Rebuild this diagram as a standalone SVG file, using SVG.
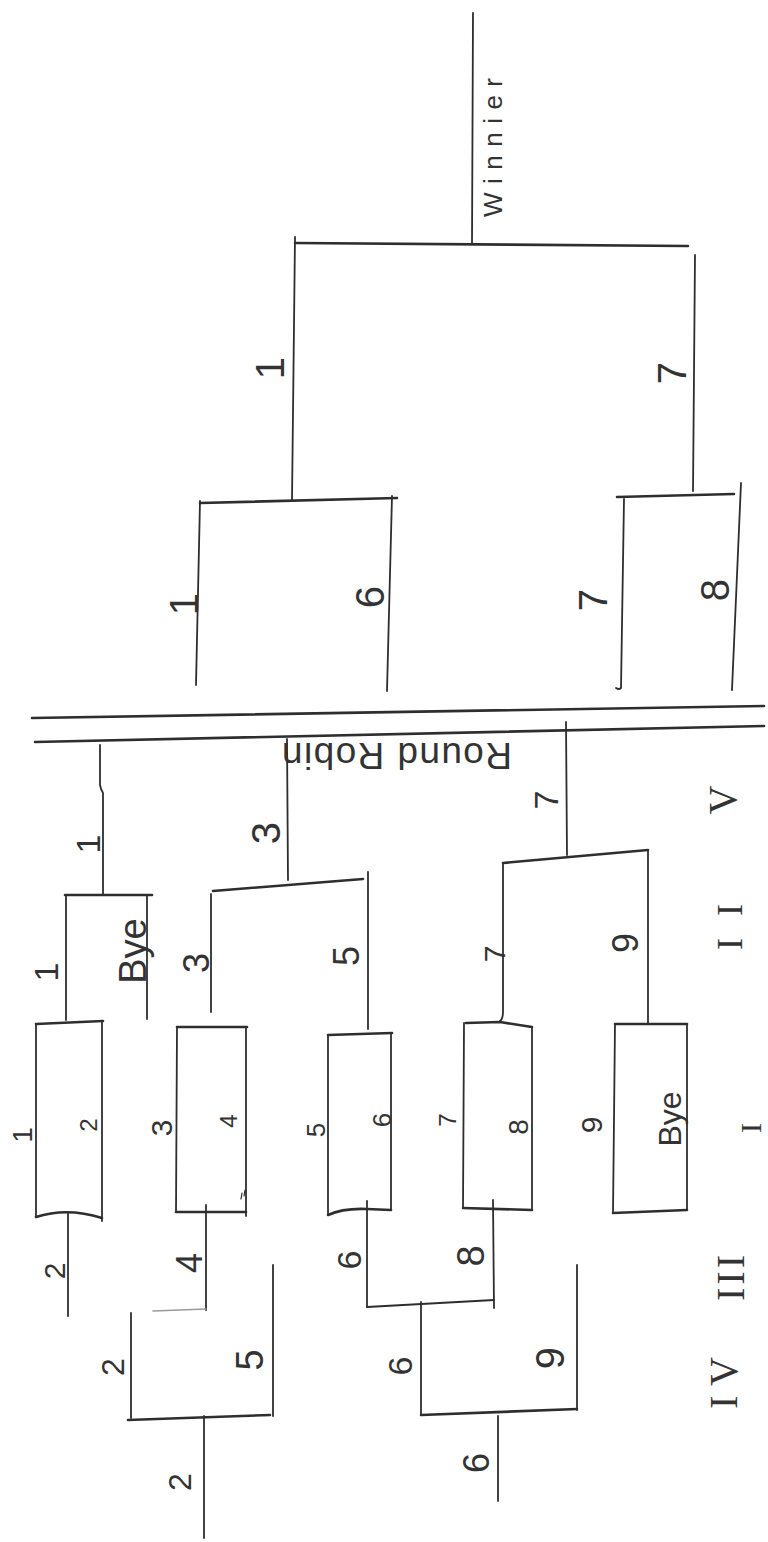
<svg xmlns="http://www.w3.org/2000/svg" width="768" height="1542" viewBox="0 0 768 1542">
<style>
.ln{stroke:#2e2e2e;stroke-width:1.8;fill:none;stroke-linecap:round;stroke-linejoin:round}
.tk{stroke-width:2.6}
.faint{stroke:#9a9a9a;stroke-width:1.5}
.t{font-family:"Liberation Sans","DejaVu Sans",sans-serif;fill:#333;text-anchor:middle;dominant-baseline:central}
.w{font-family:"Liberation Sans","DejaVu Sans",sans-serif;fill:#333}
.r{font-family:"Liberation Serif","DejaVu Serif",serif;fill:#333;text-anchor:middle;dominant-baseline:central}
</style>
<rect width="768" height="1542" fill="#ffffff"/>

<g id="connectors" class="ln">
  <path d="M473,13 L472,244"/>
  <path d="M295,243 L688,246" class="ln tk"/>
  <path d="M295,237 L292,501"/>
  <path d="M695,255 L693,491"/>
  <path d="M32,718 L764,706" class="ln tk"/>
  <path d="M35,742 L764,726" class="ln tk"/>
  <path d="M100,745 L100,785 Q101,790 103,793 L103,894"/>
  <path d="M287,739 L288,880"/>
  <path d="M566,722 L567,855"/>
  <path d="M68,1213 L68,1316"/>
  <path d="M206,1205 L206,1310"/>
  <path d="M153,1311 L206,1309" class="faint"/>
  <path d="M367,1201 L367,1307"/>
  <path d="M493,1200 L494,1308"/>
  <path d="M367,1307 L494,1300"/>
  <path d="M204,1416 L204,1538"/>
  <path d="M498,1416 L498,1501"/>
</g>

<g id="winner">
  <text class="w" font-size="26" transform="translate(502,217) rotate(-90)" textLength="139" lengthAdjust="spacing">Winnier</text>
</g>

<g id="final-left" class="ln">
  <path d="M200,503 L397,498" class="ln tk"/>
  <path d="M200,501 L196,685"/>
  <path d="M392,496 L387,691"/>
  <text class="t" stroke="none" font-size="40" transform="translate(270,368) rotate(-90)">1</text>
  <text class="t" stroke="none" font-size="40" transform="translate(184,604) rotate(-90)">1</text>
  <text class="t" stroke="none" font-size="40" transform="translate(370,597) rotate(-90)">6</text>
</g>

<g id="final-right" class="ln">
  <path d="M617,497 L734,494" class="ln tk"/>
  <path d="M624,499 L621,688 Q619,690 616,688"/>
  <path d="M741,483 L732,690"/>
  <text class="t" stroke="none" font-size="40" transform="translate(672,373) rotate(-90)">7</text>
  <text class="t" stroke="none" font-size="40" transform="translate(593,600) rotate(-90)">7</text>
  <text class="t" stroke="none" font-size="40" transform="translate(715,590) rotate(-90)">8</text>
</g>

<g id="round-robin">
  <text class="w" font-size="37" text-anchor="middle" transform="translate(397,743) rotate(180)" textLength="230" lengthAdjust="spacing">Round Robin</text>
  <text class="t" font-size="34" transform="translate(88,844) rotate(-90)">1</text>
  <text class="t" font-size="40" transform="translate(266,833) rotate(-90)">3</text>
  <text class="t" font-size="34" transform="translate(546,800) rotate(-90)">7</text>
</g>

<g id="r2-bye" class="ln">
  <path d="M65,895 L152,895" class="ln tk"/>
  <path d="M66,895 L66,1020"/>
  <path d="M147,895 L147,1019"/>
  <text class="t" stroke="none" font-size="34" transform="translate(46,972) rotate(-90)">1</text>
  <text class="w" stroke="none" font-size="38" text-anchor="middle" transform="translate(146,951) rotate(-90)">Bye</text>
</g>

<g id="r2-3v5" class="ln">
  <path d="M213,891 L363,879" class="ln tk"/>
  <path d="M211,894 L211,1012"/>
  <path d="M368,872 L368,1029"/>
  <text class="t" stroke="none" font-size="36" transform="translate(196,963) rotate(-90)">3</text>
  <text class="t" stroke="none" font-size="36" transform="translate(346,956) rotate(-90)">5</text>
</g>

<g id="r2-7v9" class="ln">
  <path d="M503,863 L648,850" class="ln tk"/>
  <path d="M503,863 L503,1012 Q503,1020 499,1022"/>
  <path d="M648,850 L648,1024"/>
  <text class="t" stroke="none" font-size="30" transform="translate(494,954) rotate(-90)">7</text>
  <text class="t" stroke="none" font-size="36" transform="translate(625,943) rotate(-90)">9</text>
</g>

<g id="r1-1v2" class="ln">
  <path d="M36,1024 L103,1021" class="ln tk"/>
  <path d="M36,1024 L36,1217"/>
  <path d="M102,1021 L102,1221"/>
  <path d="M36,1217 Q67,1207 102,1218" class="ln tk"/>
  <text class="t" stroke="none" font-size="28" transform="translate(22,1135) rotate(-90)">1</text>
  <text class="t" stroke="none" font-size="24" transform="translate(88,1125) rotate(-90)">2</text>
</g>

<g id="r1-3v4" class="ln">
  <path d="M177,1027 L247,1027" class="ln tk"/>
  <path d="M177,1027 L176,1212"/>
  <path d="M246,1027 L246,1216"/>
  <path d="M176,1212 L246,1212" class="ln tk"/>
  <path d="M241,1199 L242,1193 M244,1196 L245,1190" stroke-width="1.2"/>
  <text class="t" stroke="none" font-size="30" transform="translate(161,1128) rotate(-90)">3</text>
  <text class="t" stroke="none" font-size="24" transform="translate(228,1121) rotate(-90)">4</text>
</g>

<g id="r1-5v6" class="ln">
  <path d="M328,1035 L392,1033" class="ln tk"/>
  <path d="M328,1035 L328,1215"/>
  <path d="M391,1033 L391,1210"/>
  <path d="M328,1215 Q343,1208 367,1209 L391,1210" class="ln tk"/>
  <text class="t" stroke="none" font-size="26" transform="translate(316,1130) rotate(-90)">5</text>
  <text class="t" stroke="none" font-size="26" transform="translate(382,1120) rotate(-90)">6</text>
</g>

<g id="r1-7v8" class="ln">
  <path d="M466,1023 L500,1022 L532,1027" class="ln tk"/>
  <path d="M464,1023 L463,1208"/>
  <path d="M532,1027 L532,1210"/>
  <path d="M463,1208 L532,1210" class="ln tk"/>
  <text class="t" stroke="none" font-size="24" transform="translate(447,1120) rotate(-90)">7</text>
  <text class="t" stroke="none" font-size="28" transform="translate(518,1127) rotate(-90)">8</text>
</g>

<g id="r1-9vbye" class="ln">
  <path d="M615,1024 L687,1024" class="ln tk"/>
  <path d="M615,1024 L613,1213"/>
  <path d="M687,1024 L687,1210"/>
  <path d="M613,1213 L687,1210" class="ln tk"/>
  <text class="t" stroke="none" font-size="30" transform="translate(591,1125) rotate(-90)">9</text>
  <text class="w" stroke="none" font-size="32" text-anchor="middle" transform="translate(681,1119) rotate(-90)">Bye</text>
</g>

<g id="r3-labels">
  <text class="t" font-size="30" transform="translate(54,1271) rotate(-90)">2</text>
  <text class="t" font-size="36" transform="translate(189,1263) rotate(-90)">4</text>
  <text class="t" font-size="34" transform="translate(349,1260) rotate(-90)">6</text>
  <text class="t" font-size="38" transform="translate(471,1256) rotate(-90)">8</text>
</g>

<g id="r4-2v5" class="ln">
  <path d="M131,1313 L131,1418"/>
  <path d="M128,1420 L270,1415" class="ln tk"/>
  <path d="M273,1265 L273,1416"/>
  <text class="t" stroke="none" font-size="32" transform="translate(113,1367) rotate(-90)">2</text>
  <text class="t" stroke="none" font-size="38" transform="translate(250,1360) rotate(-90)">5</text>
  <text class="t" stroke="none" font-size="32" transform="translate(180,1482) rotate(-90)">2</text>
</g>

<g id="r4-6v9" class="ln">
  <path d="M421,1302 L421,1415"/>
  <path d="M421,1415 L577,1409" class="ln tk"/>
  <path d="M577,1265 L577,1410"/>
  <text class="t" stroke="none" font-size="34" transform="translate(400,1366) rotate(-90)">6</text>
  <text class="t" stroke="none" font-size="40" transform="translate(550,1358) rotate(-90)">9</text>
  <text class="t" stroke="none" font-size="36" transform="translate(476,1463) rotate(-90)">6</text>
</g>

<g id="round-labels">
  <text class="r" font-size="40" transform="translate(722,800) rotate(-90)">V</text>
  <text class="r" font-size="36" transform="translate(730,927) rotate(-90)" textLength="46" lengthAdjust="spacing">II</text>
  <text class="r" font-size="30" transform="translate(750,1128) rotate(-90)">I</text>
  <text class="r" font-size="40" transform="translate(730,1278) rotate(-90)" textLength="46" lengthAdjust="spacing">III</text>
  <text class="r" font-size="40" transform="translate(723,1383) rotate(-90)" textLength="52" lengthAdjust="spacing">IV</text>
</g>
</svg>
